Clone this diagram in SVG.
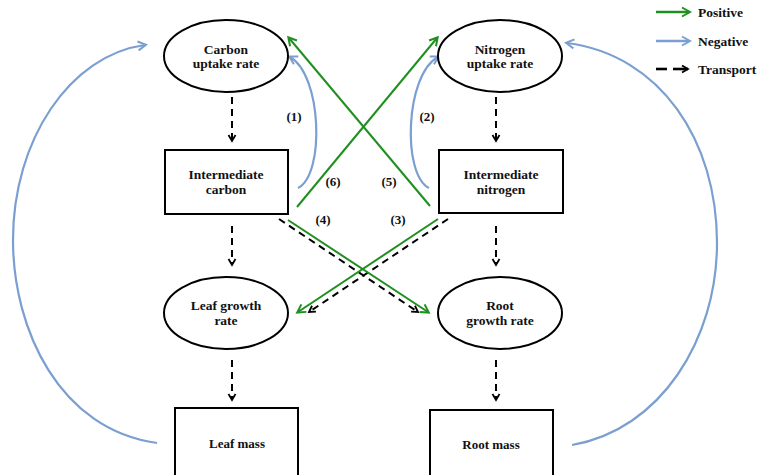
<svg xmlns="http://www.w3.org/2000/svg" width="757" height="475" viewBox="0 0 757 475">
<defs>
<marker id="mg" markerWidth="12" markerHeight="12" refX="9" refY="6" orient="auto" markerUnits="userSpaceOnUse"><path d="M2,1.5 L10,6 L2,10.5" fill="none" stroke="#1f8f1f" stroke-width="2"/></marker>
<marker id="mb" markerWidth="12" markerHeight="12" refX="9" refY="6" orient="auto" markerUnits="userSpaceOnUse"><path d="M2,1.5 L10,6 L2,10.5" fill="none" stroke="#7b9fd0" stroke-width="2"/></marker>
<marker id="mk" markerWidth="10" markerHeight="10" refX="8" refY="5" orient="auto" markerUnits="userSpaceOnUse"><path d="M2,1.5 L8,5 L2,8.5" fill="none" stroke="#000" stroke-width="1.8"/></marker>
<style>
.node{fill:#fff;stroke:#000;stroke-width:2}
.t{font-family:"Liberation Serif","DejaVu Serif",serif;font-weight:bold;font-size:13.5px;fill:#111;text-anchor:middle}
.lab{font-family:"Liberation Serif","DejaVu Serif",serif;font-weight:bold;font-size:13px;fill:#111;text-anchor:middle}
.leg{font-family:"Liberation Serif","DejaVu Serif",serif;font-weight:bold;font-size:13.5px;fill:#111}
.g{fill:none;stroke:#1f8f1f;stroke-width:2;marker-end:url(#mg)}
.b{fill:none;stroke:#7b9fd0;stroke-width:2.2;marker-end:url(#mb)}
.d{fill:none;stroke:#000;stroke-width:2;stroke-dasharray:7,5;marker-end:url(#mk)}
</style>
</defs>
<g id="connectors">
<path class="d" d="M232,97 L232,141"/>
<path class="d" d="M496,97 L496,141"/>
<path class="d" d="M232,226 L232,265"/>
<path class="d" d="M496,226 L496,265"/>
<path class="d" d="M232,360 L232,400"/>
<path class="d" d="M496,360 L496,400"/>
<path class="d" d="M279,219 L418,312"/>
<path class="d" d="M448,219 L309,312"/>
<path class="g" d="M430,206 L289,38"/>
<path class="g" d="M297,207 L437,38"/>
<path class="g" d="M288,220 L428,312"/>
<path class="g" d="M438,219 L298,312"/>
<path class="b" d="M298,188 C 325,175 322,75 290,57"/>
<path class="b" d="M429,188 C 402,175 405,75 438,57"/>
<path class="b" d="M157,443 C 60,430 13,330 13,240 C 13,140 70,55 145,45"/>
<path class="b" d="M572,445 C 660,430 717,340 717,243 C 717,140 660,55 567,43"/>
</g>
<g id="labels">
<text class="lab" x="294" y="121">(1)</text>
<text class="lab" x="427" y="121">(2)</text>
<text class="lab" x="333" y="186">(6)</text>
<text class="lab" x="389" y="186">(5)</text>
<text class="lab" x="323" y="224">(4)</text>
<text class="lab" x="398" y="224">(3)</text>
</g>
<g id="carbon-uptake"><ellipse class="node" cx="226" cy="56" rx="62" ry="36"/><text class="t" x="226" y="54">Carbon</text><text class="t" x="226" y="68">uptake rate</text></g>
<g id="nitrogen-uptake"><ellipse class="node" cx="500" cy="56" rx="62" ry="36"/><text class="t" x="500" y="54">Nitrogen</text><text class="t" x="500" y="68">uptake rate</text></g>
<g id="intermediate-carbon"><rect class="node" x="165" y="150" width="123" height="64"/><text class="t" x="226" y="179">Intermediate</text><text class="t" x="226" y="194">carbon</text></g>
<g id="intermediate-nitrogen"><rect class="node" x="439" y="150" width="124" height="63"/><text class="t" x="501" y="179">Intermediate</text><text class="t" x="501" y="194">nitrogen</text></g>
<g id="leaf-growth"><ellipse class="node" cx="226" cy="313" rx="62" ry="36"/><text class="t" x="226" y="310">Leaf growth</text><text class="t" x="226" y="325">rate</text></g>
<g id="root-growth"><ellipse class="node" cx="500" cy="313" rx="62" ry="36"/><text class="t" x="500" y="310">Root</text><text class="t" x="500" y="325">growth rate</text></g>
<g id="leaf-mass"><rect class="node" x="175" y="408" width="123" height="70"/><text class="t" x="237" y="448" style="font-size:13px">Leaf mass</text></g>
<g id="root-mass"><rect class="node" x="430" y="410" width="123" height="70"/><text class="t" x="491" y="449" style="font-size:13px">Root mass</text></g>
<g id="legend">
<path class="g" d="M656,12 L689,12" style="stroke-width:2.6"/>
<text class="leg" x="698" y="17">Positive</text>
<path class="b" d="M656,41 L689,41" style="stroke-width:2.6"/>
<text class="leg" x="698" y="46">Negative</text>
<path d="M656,69 L667,69" stroke="#000" stroke-width="2.6"/>
<path d="M673,69 L688,69" stroke="#000" stroke-width="2.6" marker-end="url(#mk)"/>
<text class="leg" x="698" y="74">Transport</text>
</g>
</svg>
